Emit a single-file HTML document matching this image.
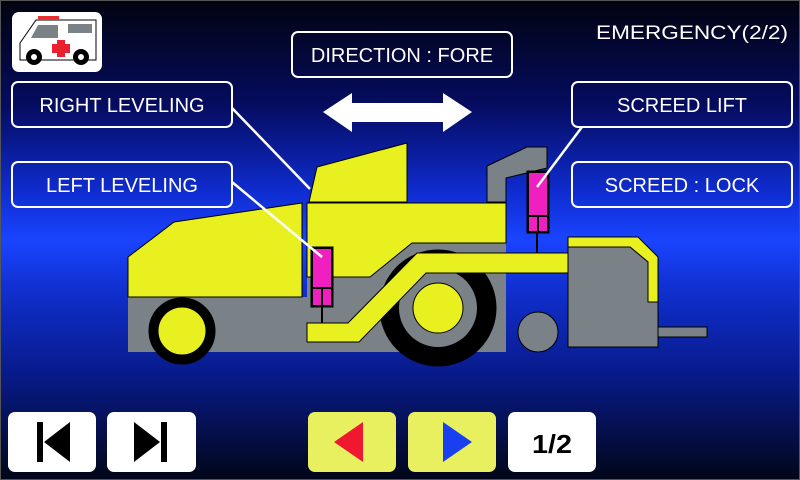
<!DOCTYPE html>
<html><head><meta charset="utf-8"><style>
html,body{margin:0;padding:0}
body{width:800px;height:480px;overflow:hidden;background:linear-gradient(#02030f 0%,#050c60 22%,#0f2cd0 40%,#1a44ff 50%,#1030d0 60%,#081a8a 78%,#020618 100%)}
svg{display:block}
text{font-family:"Liberation Sans",sans-serif;fill:#fff}
</style></head><body>
<svg width="800" height="480" viewBox="0 0 800 480">
<rect x="0.5" y="0.5" width="799" height="479" fill="none" stroke="#555" stroke-width="1"/>
<rect x="12" y="12" width="90" height="60" rx="7" fill="#fff"/>
<path d="M20,60 L20,43 L36,20 L96,20 L96,60 Z" fill="#fff" stroke="#000" stroke-width="1"/>
<rect x="38" y="16" width="21" height="4" fill="#e83030"/>
<path d="M31,38 L38,25 L58,25 L58,38 Z" fill="#7a8288"/>
<rect x="68" y="24" width="24" height="9" fill="#7a8288"/>
<rect x="57" y="40" width="8" height="17" fill="#e82030"/>
<rect x="52" y="44" width="18" height="9" fill="#e82030"/>
<circle cx="34" cy="57" r="8" fill="#000"/><circle cx="34" cy="57" r="3" fill="#fff"/>
<circle cx="81" cy="57" r="8" fill="#000"/><circle cx="81" cy="57" r="3" fill="#fff"/>
<text x="692" y="39" font-size="19" text-anchor="middle" textLength="192" lengthAdjust="spacingAndGlyphs">EMERGENCY(2/2)</text>
<g fill="none" stroke="#fff" stroke-width="2">
<rect x="292" y="32" width="220" height="45" rx="6"/>
<rect x="12" y="82" width="220" height="45" rx="6"/>
<rect x="12" y="162" width="220" height="45" rx="6"/>
<rect x="572" y="82" width="220" height="45" rx="6"/>
<rect x="572" y="162" width="220" height="45" rx="6"/>
</g>
<g font-size="20" text-anchor="middle">
<text x="402" y="62">DIRECTION : FORE</text>
<text x="122" y="112">RIGHT LEVELING</text>
<text x="122" y="192">LEFT LEVELING</text>
<text x="682" y="112">SCREED LIFT</text>
<text x="682" y="192">SCREED : LOCK</text>
</g>
<polygon points="323,112 352,93 352,103 443,103 443,93 472,112 443,132 443,122 352,122 352,132" fill="#fff"/>
<g stroke="#000" stroke-width="1">
<polygon points="487,202 487,166 527,147 547,147 547,168 506,178 506,202" fill="#7a8288"/>
<polygon points="128,297 307,297 307,277 370,277 412,243 506,243 506,352 128,352" fill="#7a8288" stroke="none"/>
<circle cx="438" cy="308" r="58" fill="#000"/>
<circle cx="438" cy="308" r="39" fill="#7a8288" stroke="none"/>
<circle cx="438" cy="308" r="25" fill="#e8f020"/>
<polygon points="128,257 174,222 302,203 302,297 128,297" fill="#e8f020"/>
<polygon points="307,203 506,203 506,243 412,243 370,277 307,277" fill="#e8f020"/>
<polygon points="309,202 317,167 407,143 407,202" fill="#e8f020"/>
<circle cx="182" cy="331" r="33" fill="#000"/>
<circle cx="182" cy="331" r="24" fill="#e8f020"/>
<circle cx="538" cy="332" r="20" fill="#7a8288"/>
<polygon points="568,237 638,237 658,257 658,302 648,302 648,262 630,247 568,247" fill="#e8f020"/>
<polygon points="568,247 630,247 648,262 648,302 658,302 658,347 568,347" fill="#7a8288"/>
<rect x="658" y="327" width="49" height="10" fill="#7a8288"/>
<polygon points="307,323 348,323 417,253 568,253 568,273 426,273 359,342 307,342" fill="#e8f020"/>
<line x1="322" y1="307" x2="322" y2="323" stroke-width="2"/>
<rect x="311" y="247" width="22" height="60" fill="#000"/>
<rect x="313" y="249" width="18" height="38" fill="#f020c0" stroke="none"/>
<rect x="313" y="289" width="8" height="16" fill="#f020c0" stroke="none"/>
<rect x="323" y="289" width="8" height="16" fill="#f020c0" stroke="none"/>
<line x1="537" y1="233" x2="537" y2="253" stroke-width="2"/>
<rect x="527" y="171" width="22" height="62" fill="#000"/>
<rect x="529" y="173" width="18" height="42" fill="#f020c0" stroke="none"/>
<rect x="529" y="217" width="8" height="14" fill="#f020c0" stroke="none"/>
<rect x="539" y="217" width="8" height="14" fill="#f020c0" stroke="none"/>
</g>
<g stroke="#fff" stroke-width="2.5">
<line x1="232" y1="108" x2="310" y2="189"/>
<line x1="232" y1="182" x2="322" y2="257"/>
<line x1="582" y1="127" x2="537" y2="187"/>
</g>
<rect x="8" y="412" width="88" height="60" rx="7" fill="#fff"/>
<rect x="37" y="422" width="6" height="40" fill="#000"/>
<polygon points="70,422 70,462 44,442" fill="#000"/>
<rect x="107" y="412" width="89" height="60" rx="7" fill="#fff"/>
<rect x="161" y="422" width="6" height="40" fill="#000"/>
<polygon points="134,422 134,462 160,442" fill="#000"/>
<rect x="308" y="412" width="88" height="60" rx="7" fill="#e8f060"/>
<polygon points="363,422 363,462 334,442" fill="#f01830"/>
<rect x="408" y="412" width="88" height="60" rx="7" fill="#e8f060"/>
<polygon points="443,422 443,462 472,442" fill="#1840f0"/>
<rect x="508" y="412" width="88" height="60" rx="7" fill="#fff"/>
<text x="552" y="453" font-size="26" font-weight="bold" text-anchor="middle" style="fill:#000" textLength="40" lengthAdjust="spacingAndGlyphs">1/2</text>
</svg>
</body></html>
